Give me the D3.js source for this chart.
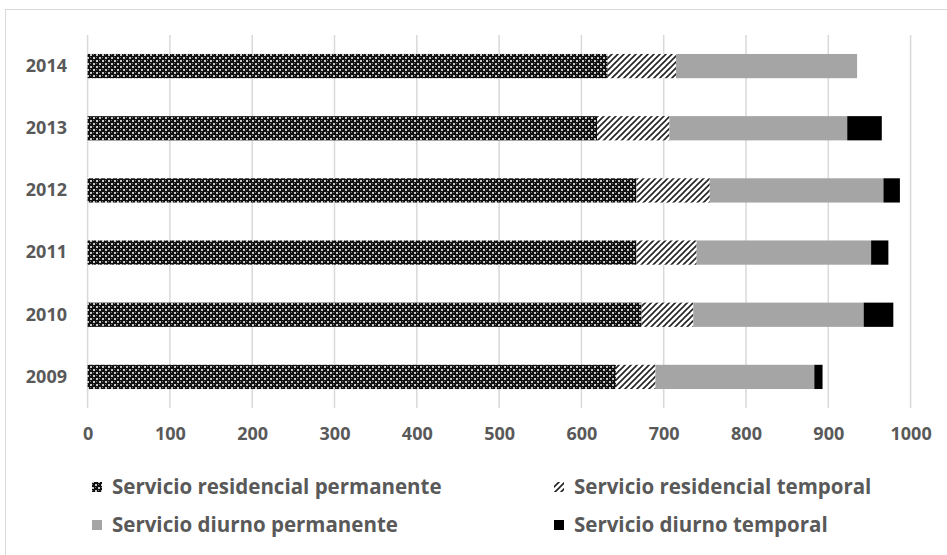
<!DOCTYPE html>
<html>
<head>
<meta charset="utf-8">
<script src="https://cdn.jsdelivr.net/npm/d3@7"></script>
<style>
  html, body { margin: 0; padding: 0; background: #fff; }
  svg { display: block; font-family: "Open Sans", "Noto Sans", sans-serif; }
</style>
</head>
<body>
<svg id="chart" width="947" height="555"></svg>
<script>
// Users per service type and year (stacked horizontal bars)
const years = ["2014", "2013", "2012", "2011", "2010", "2009"];
const residencialPermanente = [632, 619, 667, 667, 673, 642];
const residencialTemporal   = [83, 88, 89, 73, 63, 48];
const diurnoPermanente      = [220, 216, 211, 212, 207, 193];
const diurnoTemporal        = [0, 42, 20, 21, 36, 10];
const xTicks = [0, 100, 200, 300, 400, 500, 600, 700, 800, 900, 1000];
const seriesNames = [
  "Servicio residencial permanente",
  "Servicio residencial temporal",
  "Servicio diurno permanente",
  "Servicio diurno temporal"
];

const seriesValues = [residencialPermanente, residencialTemporal, diurnoPermanente, diurnoTemporal];
const rows = years.map((y, i) => {
  const r = { year: y };
  seriesNames.forEach((s, k) => r[s] = seriesValues[k][i]);
  return r;
});

const svg = d3.select("#chart");
const textColor = "#595959";

// Patterns for the residential series
const defs = svg.append("defs");
const cross = defs.append("pattern")
  .attr("id", "pat-cross").attr("patternUnits", "userSpaceOnUse")
  .attr("width", 6).attr("height", 6);
cross.append("rect").attr("width", 6).attr("height", 6).attr("fill", "#111");
cross.append("rect").attr("x", 0).attr("y", 0).attr("width", 2).attr("height", 2).attr("fill", "#c8c8c8");
cross.append("rect").attr("x", 3).attr("y", 3).attr("width", 2).attr("height", 2).attr("fill", "#c8c8c8");
cross.append("rect").attr("x", 0).attr("y", 3).attr("width", 1).attr("height", 1).attr("fill", "#777");
cross.append("rect").attr("x", 3).attr("y", 0).attr("width", 1).attr("height", 1).attr("fill", "#777");

const hatch = defs.append("pattern")
  .attr("id", "pat-hatch").attr("patternUnits", "userSpaceOnUse")
  .attr("width", 6).attr("height", 6);
hatch.append("rect").attr("width", 6).attr("height", 6).attr("fill", "#fff");
hatch.append("path").attr("d", "M-1,1 L1,-1 M0,6 L6,0 M5,7 L7,5")
  .attr("stroke", "#222").attr("stroke-width", 1.6);

const fills = ["url(#pat-cross)", "url(#pat-hatch)", "#a5a5a5", "#000"];

// Chart frame
svg.append("rect").attr("x", 5.5).attr("y", 9.5).attr("width", 960).attr("height", 560)
  .attr("fill", "none").attr("stroke", "#d9d9d9").attr("stroke-width", 1);

const x = d3.scaleLinear().domain([0, 1000]).range([87.6, 910.6]);
const y = d3.scaleBand().domain(years).range([35, 408]).paddingInner(0.61).paddingOuter(0.305);

// Vertical gridlines
svg.append("g").selectAll("line").data(xTicks).join("line")
  .attr("x1", d => x(d)).attr("x2", d => x(d))
  .attr("y1", 35).attr("y2", 408)
  .attr("stroke", "#d9d9d9").attr("stroke-width", 1.5);

// Stacked bars
const stack = d3.stack().keys(seriesNames)(rows);
svg.append("g").selectAll("g").data(stack).join("g")
  .attr("fill", (d, i) => fills[i])
  .selectAll("rect").data(d => d).join("rect")
  .attr("x", d => x(d[0]))
  .attr("width", d => Math.max(0, x(d[1]) - x(d[0])))
  .attr("y", d => y(d.data.year))
  .attr("height", y.bandwidth());

// X axis labels
const xAxis = svg.append("g").attr("transform", "translate(0,434)")
  .call(d3.axisBottom(x).tickValues(xTicks).tickSize(0).tickPadding(0).tickFormat(d3.format("d")));
xAxis.select(".domain").remove();
xAxis.selectAll("text").attr("fill", textColor).attr("font-size", 18).attr("font-weight", 700)
  .attr("dy", "0.35em").attr("font-family", "Open Sans, sans-serif");

// Y axis labels
const yAxis = svg.append("g").attr("transform", "translate(67,0)")
  .call(d3.axisLeft(y).tickSize(0).tickPadding(0));
yAxis.select(".domain").remove();
yAxis.selectAll("text").attr("fill", textColor).attr("font-size", 18).attr("font-weight", 700)
  .attr("font-family", "Open Sans, sans-serif");

// Legend
const legendPos = [[92, 487], [554, 487], [92, 525], [554, 525]];
const legend = svg.append("g").selectAll("g").data(seriesNames).join("g")
  .attr("transform", (d, i) => `translate(${legendPos[i][0]},${legendPos[i][1]})`);
legend.append("rect").attr("x", 0).attr("y", -5).attr("width", 10).attr("height", 10)
  .attr("fill", (d, i) => fills[i]);
legend.append("text").attr("x", 20).attr("dy", "0.35em")
  .attr("fill", textColor).attr("font-size", 20.5).attr("font-weight", 700)
  .text(d => d);
</script>
</body>
</html>
